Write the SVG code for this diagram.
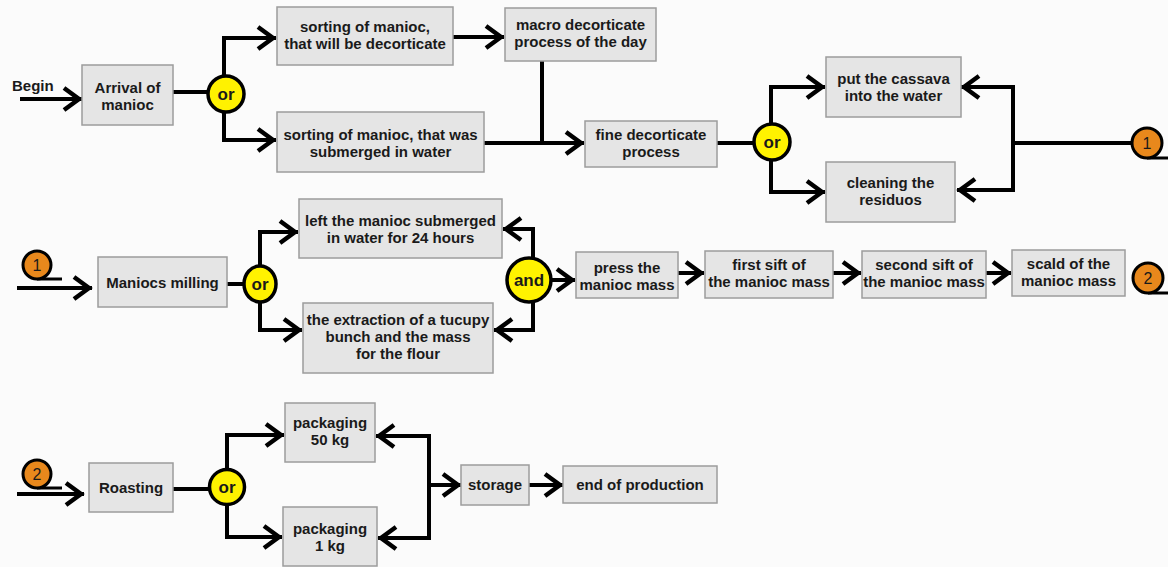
<svg xmlns="http://www.w3.org/2000/svg" width="1168" height="567" viewBox="0 0 1168 567">
<style>
.box{fill:#e5e5e5;stroke:#9c9c9c;stroke-width:1.5}
.t{font-family:"Liberation Sans",Arial,sans-serif;font-weight:bold;font-size:15px;fill:#1a1a1a;text-anchor:middle}
.lbl{font-family:"Liberation Sans",Arial,sans-serif;font-weight:bold;font-size:15px;fill:#1a1a1a}
.gate{fill:#fff200;stroke:#000;stroke-width:3.5}
.gt{font-family:"Liberation Sans",Arial,sans-serif;font-weight:bold;font-size:17px;fill:#1a1a1a;text-anchor:middle}
.ref{fill:#e8881c;stroke:#000;stroke-width:3}
.rt{font-family:"Liberation Sans",Arial,sans-serif;font-size:16px;fill:#1a1a1a;text-anchor:middle}
.c{fill:none;stroke:#000;stroke-width:4}
.a{marker-end:url(#chev)}
.tail{fill:none;stroke:#000;stroke-width:3}
</style>
<defs>
<marker id="chev" viewBox="-22 -15 26 30" markerWidth="26" markerHeight="30" refX="0" refY="0" markerUnits="userSpaceOnUse" orient="auto">
<path d="M-18,-11 L-3,0 L-18,11" fill="none" stroke="#000" stroke-width="4.5" stroke-linejoin="miter"/>
</marker>
</defs>
<rect width="1168" height="567" fill="#fbfbfb"/>

<g id="connectors">
<path class="c a" d="M20,99 H82"/>
<path class="c" d="M173,92 H208"/>
<path class="c a" d="M224,77 V38 H276"/>
<path class="c a" d="M224,111 V140 H276"/>
<path class="c a" d="M453,37 H504"/>
<path class="c" d="M542,61 V143"/>
<path class="c a" d="M484,143 H584"/>
<path class="c" d="M717,143 H754"/>
<path class="c a" d="M771,125 V87 H825"/>
<path class="c a" d="M771,160 V192 H825"/>
<path class="c" d="M1132,143 H1013"/>
<path class="c a" d="M1013,143 V87 H961"/>
<path class="c a" d="M1013,143 V190 H957"/>

<path class="c a" d="M17,288 H92"/>
<path class="c" d="M227,284 H244"/>
<path class="c a" d="M260,266 V232 H298"/>
<path class="c a" d="M260,302 V330 H302"/>
<path class="c a" d="M533,259 V229 H503"/>
<path class="c a" d="M533,301 V330 H494"/>
<path class="c a" d="M551,280 H575"/>
<path class="c a" d="M678,273 H704"/>
<path class="c a" d="M833,273 H861"/>
<path class="c a" d="M986,273 H1011"/>

<path class="c a" d="M17,494 H84"/>
<path class="c" d="M173,489 H209"/>
<path class="c a" d="M227,470 V435 H284"/>
<path class="c a" d="M227,505 V537 H282"/>
<path class="c a" d="M429,485 V436 H376"/>
<path class="c a" d="M429,485 V538 H378"/>
<path class="c a" d="M429,485 H461"/>
<path class="c a" d="M529,485 H563"/>
</g>

<text class="lbl" x="12" y="91">Begin</text>

<g id="arrival"><rect class="box" x="82" y="65" width="91" height="60"/><text class="t" x="127.5" y="93">Arrival of</text><text class="t" x="127.5" y="110">manioc</text></g>
<g id="or1"><circle class="gate" cx="226" cy="94" r="18"/><text class="gt" x="226" y="100">or</text></g>
<g id="sorting1"><rect class="box" x="277" y="7" width="176" height="58"/><text class="t" x="365" y="32">sorting of manioc,</text><text class="t" x="365" y="49">that will be decorticate</text></g>
<g id="sorting2"><rect class="box" x="277" y="112" width="207" height="60"/><text class="t" x="380.5" y="140">sorting of manioc, that was</text><text class="t" x="380.5" y="157">submerged in water</text></g>
<g id="macro"><rect class="box" x="505" y="8" width="151" height="53"/><text class="t" x="580.5" y="30">macro decorticate</text><text class="t" x="580.5" y="47">process of the day</text></g>
<g id="fine"><rect class="box" x="585" y="121" width="132" height="46"/><text class="t" x="651" y="140">fine decorticate</text><text class="t" x="651" y="157">process</text></g>
<g id="or2"><circle class="gate" cx="772" cy="142" r="18"/><text class="gt" x="772" y="148">or</text></g>
<g id="put"><rect class="box" x="826" y="57" width="135" height="60"/><text class="t" x="893.5" y="84">put the cassava</text><text class="t" x="893.5" y="101">into the water</text></g>
<g id="cleaning"><rect class="box" x="826" y="162" width="129" height="60"/><text class="t" x="890.5" y="188">cleaning the</text><text class="t" x="890.5" y="205">residuos</text></g>
<g id="ref1out"><path class="tail" d="M1147,158 H1168"/><circle class="ref" cx="1147" cy="143" r="15"/><text class="rt" x="1147" y="149">1</text></g>

<g id="ref1in"><path class="tail" d="M37,279 H62"/><circle class="ref" cx="37" cy="265" r="14"/><text class="rt" x="37" y="271">1</text></g>
<g id="milling"><rect class="box" x="98" y="257" width="129" height="50"/><text class="t" x="162.5" y="288">Maniocs milling</text></g>
<g id="or3"><ellipse class="gate" cx="260" cy="284" rx="16" ry="18"/><text class="gt" x="260" y="290">or</text></g>
<g id="submerged"><rect class="box" x="299" y="199" width="203" height="59"/><text class="t" x="400.5" y="226">left the manioc submerged</text><text class="t" x="400.5" y="243">in water for 24 hours</text></g>
<g id="extraction"><rect class="box" x="303" y="303" width="190" height="70"/><text class="t" x="398" y="325">the extraction of a tucupy</text><text class="t" x="398" y="342">bunch and the mass</text><text class="t" x="398" y="359">for the flour</text></g>
<g id="and"><circle class="gate" cx="529" cy="280" r="22"/><text class="gt" x="529" y="286">and</text></g>
<g id="press"><rect class="box" x="576" y="252" width="102" height="46"/><text class="t" x="627" y="273">press the</text><text class="t" x="627" y="290">manioc mass</text></g>
<g id="sift1"><rect class="box" x="705" y="251" width="128" height="47"/><text class="t" x="769" y="270">first sift of</text><text class="t" x="769" y="287">the manioc mass</text></g>
<g id="sift2"><rect class="box" x="862" y="251" width="124" height="47"/><text class="t" x="924" y="270">second sift of</text><text class="t" x="924" y="287">the manioc mass</text></g>
<g id="scald"><rect class="box" x="1012" y="250" width="113" height="46"/><text class="t" x="1068.5" y="269">scald of the</text><text class="t" x="1068.5" y="286">manioc mass</text></g>
<g id="ref2out"><path class="tail" d="M1148,293 H1168"/><circle class="ref" cx="1148" cy="278" r="15"/><text class="rt" x="1148" y="284">2</text></g>

<g id="ref2in"><path class="tail" d="M37,488 H62"/><circle class="ref" cx="37" cy="474" r="14"/><text class="rt" x="37" y="480">2</text></g>
<g id="roasting"><rect class="box" x="89" y="463" width="84" height="49"/><text class="t" x="131" y="493">Roasting</text></g>
<g id="or4"><circle class="gate" cx="227" cy="487" r="17.5"/><text class="gt" x="227" y="493">or</text></g>
<g id="pkg50"><rect class="box" x="285" y="403" width="90" height="59"/><text class="t" x="330" y="428">packaging</text><text class="t" x="330" y="445">50 kg</text></g>
<g id="pkg1"><rect class="box" x="283" y="507" width="94" height="59"/><text class="t" x="330" y="534">packaging</text><text class="t" x="330" y="551">1 kg</text></g>
<g id="storage"><rect class="box" x="461" y="465" width="68" height="40"/><text class="t" x="495" y="490">storage</text></g>
<g id="end"><rect class="box" x="563" y="466" width="154" height="37"/><text class="t" x="640" y="490">end of production</text></g>
</svg>
